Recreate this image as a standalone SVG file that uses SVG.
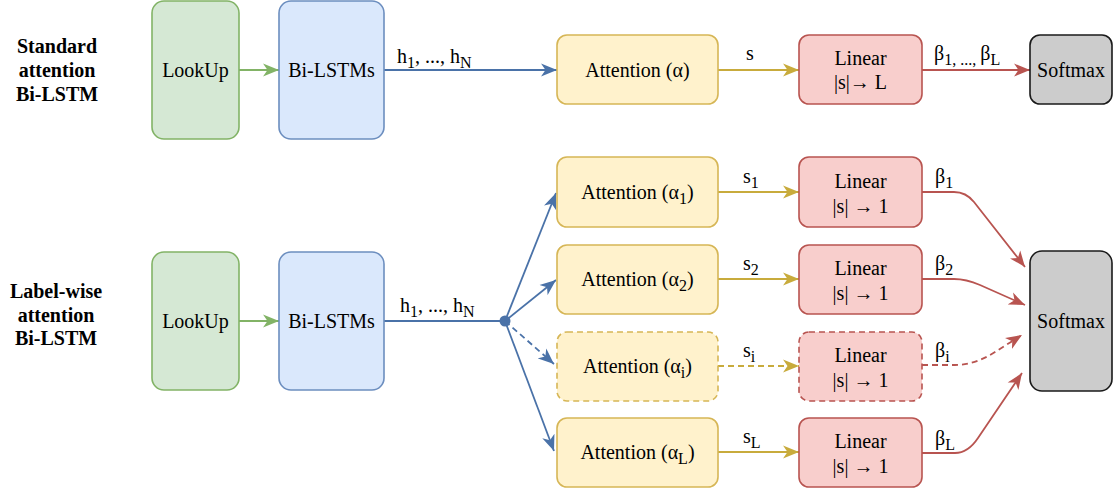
<svg xmlns="http://www.w3.org/2000/svg" width="1113" height="492" viewBox="0 0 1113 492" font-family="Liberation Serif, serif">
<style>
text{font-family:'Liberation Serif','Times New Roman',serif;font-size:20px;fill:#000;text-anchor:middle}
.lbl{font-weight:bold}
.el{text-anchor:start}
.sub{font-size:16px}
.box{stroke-width:1.6}
.g{fill:#d5e8d4;stroke:#82b366}
.b{fill:#dae8fc;stroke:#6c8ebf}
.y{fill:#fff2cc;stroke:#d6b656}
.r{fill:#f8cecc;stroke:#b85450}
.k{fill:#cccccc;stroke:#1a1a1a}
.d{stroke-dasharray:6 4}
.c{fill:none;stroke-width:1.8}
.cg{stroke:#82b366}
.cb{stroke:#4a72a8}
.cy{stroke:#c8ab3c}
.cr{stroke:#b85450}
</style>
<defs>
<marker id="ag" markerUnits="userSpaceOnUse" markerWidth="17" markerHeight="14" refX="16" refY="7" orient="auto"><path d="M0,0.5 L16,7 L0,13.5 L4.5,7 z" fill="#82b366"/></marker>
<marker id="ab" markerUnits="userSpaceOnUse" markerWidth="17" markerHeight="14" refX="16" refY="7" orient="auto"><path d="M0,0.5 L16,7 L0,13.5 L4.5,7 z" fill="#4a72a8"/></marker>
<marker id="ay" markerUnits="userSpaceOnUse" markerWidth="17" markerHeight="14" refX="16" refY="7" orient="auto"><path d="M0,0.5 L16,7 L0,13.5 L4.5,7 z" fill="#c8ab3c"/></marker>
<marker id="ar" markerUnits="userSpaceOnUse" markerWidth="17" markerHeight="14" refX="16" refY="7" orient="auto"><path d="M0,0.5 L16,7 L0,13.5 L4.5,7 z" fill="#b85450"/></marker>
</defs>

<g id="label-standard">
<text class="lbl" x="57" y="53">Standard</text>
<text class="lbl" x="57" y="77">attention</text>
<text class="lbl" x="57" y="101">Bi-LSTM</text>
</g>
<g id="label-labelwise">
<text class="lbl" x="56" y="298">Label-wise</text>
<text class="lbl" x="56" y="322">attention</text>
<text class="lbl" x="56" y="345">Bi-LSTM</text>
</g>

<g id="connectors">
<path class="c cg" d="M239,70 H279" marker-end="url(#ag)"/>
<path class="c cb" d="M384,70 H557" marker-end="url(#ab)"/>
<path class="c cy" d="M718,70 H799" marker-end="url(#ay)"/>
<path class="c cr" d="M922,70 H1030" marker-end="url(#ar)"/>

<path class="c cg" d="M239,321 H279" marker-end="url(#ag)"/>
<path class="c cb" d="M384,321 H505"/>
<circle cx="505" cy="321" r="5.5" fill="#4a72a8"/>
<path class="c cb" d="M505,321 L556,193" marker-end="url(#ab)"/>
<path class="c cb" d="M505,321 L556,280" marker-end="url(#ab)"/>
<path class="c cb d" d="M505,321 L554,364" marker-end="url(#ab)"/>
<path class="c cb" d="M505,321 L554,451" marker-end="url(#ab)"/>

<path class="c cy" d="M718,192 H799" marker-end="url(#ay)"/>
<path class="c cy" d="M718,279 H799" marker-end="url(#ay)"/>
<path class="c cy d" d="M718,366 H799" marker-end="url(#ay)"/>
<path class="c cy" d="M718,452 H799" marker-end="url(#ay)"/>

<path class="c cr" d="M922,192 L954,192 Q966,192 974,202 L1025,267" marker-end="url(#ar)"/>
<path class="c cr" d="M922,279 L954,279 Q966,279 980,285 L1025,305" marker-end="url(#ar)"/>
<path class="c cr d" d="M922,365 L955,365 Q975,365 995,352 L1022,335" marker-end="url(#ar)"/>
<path class="c cr" d="M922,453 L955,453 Q968,453 978,438 L1022,373" marker-end="url(#ar)"/>
</g>

<g id="edge-labels">
<text class="el" x="397" y="63">h<tspan class="sub" dy="5">1</tspan><tspan dy="-5">, ..., h</tspan><tspan class="sub" dy="5">N</tspan></text>
<text class="el" x="400" y="312">h<tspan class="sub" dy="5">1</tspan><tspan dy="-5">, ..., h</tspan><tspan class="sub" dy="5">N</tspan></text>
<text class="el" x="746" y="60">s</text>
<text class="el" x="743" y="183">s<tspan class="sub" dy="5">1</tspan></text>
<text class="el" x="743" y="270">s<tspan class="sub" dy="5">2</tspan></text>
<text class="el" x="743" y="357">s<tspan class="sub" dy="5">i</tspan></text>
<text class="el" x="743" y="443">s<tspan class="sub" dy="5">L</tspan></text>
<text class="el" x="934" y="60">β<tspan class="sub" dy="5">1, ..., </tspan><tspan dy="-5">β</tspan><tspan class="sub" dy="5">L</tspan></text>
<text class="el" x="935" y="183">β<tspan class="sub" dy="5">1</tspan></text>
<text class="el" x="935" y="270">β<tspan class="sub" dy="5">2</tspan></text>
<text class="el" x="935" y="357">β<tspan class="sub" dy="5">i</tspan></text>
<text class="el" x="935" y="445">β<tspan class="sub" dy="5">L</tspan></text>
</g>

<g id="lookup-top"><rect class="box g" x="152" y="1" width="87" height="138" rx="12"/><text x="195.5" y="77">LookUp</text></g>
<g id="bilstm-top"><rect class="box b" x="279" y="1" width="105" height="138" rx="12"/><text x="331.5" y="77">Bi-LSTMs</text></g>
<g id="attention-top"><rect class="box y" x="557" y="35" width="161" height="69" rx="10"/><text x="637.5" y="77">Attention (α)</text></g>
<g id="linear-top"><rect class="box r" x="799" y="35" width="123" height="69" rx="10"/><text x="860.5" y="65">Linear</text><text x="860.5" y="89">|s|→ L</text></g>
<g id="softmax-top"><rect class="box k" x="1030" y="35" width="82" height="69" rx="10"/><text x="1071" y="77">Softmax</text></g>

<g id="lookup-bottom"><rect class="box g" x="152" y="252" width="87" height="138" rx="12"/><text x="195.5" y="328">LookUp</text></g>
<g id="bilstm-bottom"><rect class="box b" x="279" y="252" width="105" height="138" rx="12"/><text x="331.5" y="328">Bi-LSTMs</text></g>

<g id="attention-1"><rect class="box y" x="557" y="157" width="161" height="70" rx="10"/><text x="637.5" y="199">Attention (α<tspan class="sub" dy="5">1</tspan><tspan dy="-5">)</tspan></text></g>
<g id="attention-2"><rect class="box y" x="557" y="245" width="161" height="69" rx="10"/><text x="637.5" y="286">Attention (α<tspan class="sub" dy="5">2</tspan><tspan dy="-5">)</tspan></text></g>
<g id="attention-i"><rect class="box y d" x="557" y="332" width="161" height="69" rx="10"/><text x="637.5" y="373">Attention (α<tspan class="sub" dy="5">i</tspan><tspan dy="-5">)</tspan></text></g>
<g id="attention-L"><rect class="box y" x="557" y="418" width="161" height="69" rx="10"/><text x="637.5" y="459">Attention (α<tspan class="sub" dy="5">L</tspan><tspan dy="-5">)</tspan></text></g>

<g id="linear-1"><rect class="box r" x="799" y="157" width="123" height="70" rx="10"/><text x="860.5" y="188">Linear</text><text x="860.5" y="213">|s| → 1</text></g>
<g id="linear-2"><rect class="box r" x="799" y="245" width="123" height="69" rx="10"/><text x="860.5" y="275">Linear</text><text x="860.5" y="300">|s| → 1</text></g>
<g id="linear-i"><rect class="box r d" x="799" y="332" width="123" height="69" rx="10"/><text x="860.5" y="362">Linear</text><text x="860.5" y="387">|s| → 1</text></g>
<g id="linear-L"><rect class="box r" x="799" y="418" width="123" height="69" rx="10"/><text x="860.5" y="448">Linear</text><text x="860.5" y="473">|s| → 1</text></g>

<g id="softmax-bottom"><rect class="box k" x="1030" y="251" width="82" height="140" rx="12"/><text x="1071" y="328">Softmax</text></g>
</svg>
